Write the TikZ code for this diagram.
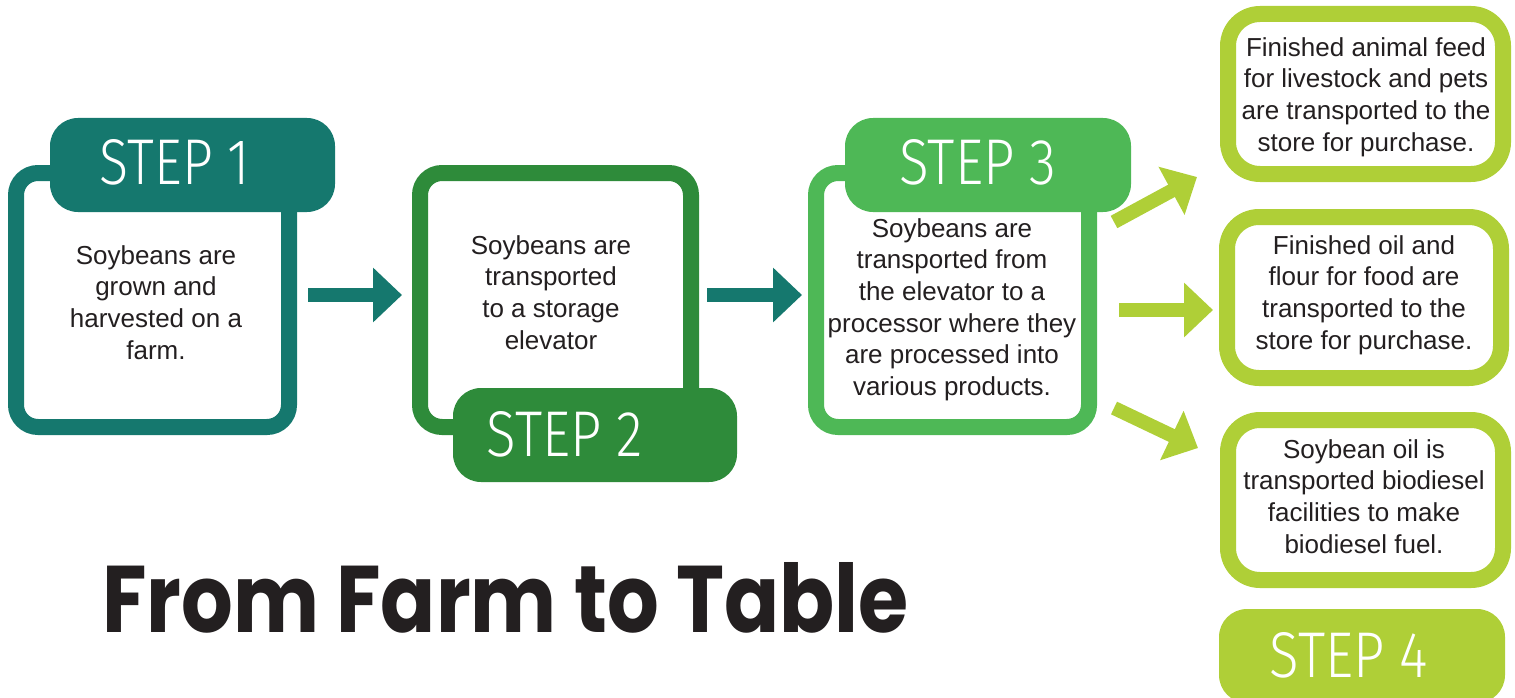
\documentclass[tikz,border=0pt]{standalone}
\usepackage{fontspec}
\setmainfont{Liberation Sans}
\newfontfamily\stepfont{Fira Sans Light}
\newfontfamily\titlefont{Poppins}
\usetikzlibrary{arrows.meta,calc}
\definecolor{cone}{HTML}{15786E}
\definecolor{ctwo}{HTML}{2E8B3A}
\definecolor{cthree}{HTML}{4EB856}
\definecolor{cfour}{HTML}{AFCF37}
\definecolor{txt}{HTML}{231F20}
\tikzset{
  frame/.style={draw=#1, line width=16pt, fill=white, rounded corners=22pt, inner sep=0pt},
  endframe/.style={draw=#1, line width=16pt, fill=white, rounded corners=32pt, inner sep=0pt},
  tab/.style={fill=#1, rounded corners=28pt, inner sep=0pt},
  body/.style={text=txt, font=\fontsize{26}{31.7}\selectfont, align=center, inner sep=0pt, anchor=north},
  steplabel/.style={text=white, inner sep=0pt},
  arr/.style={draw=#1, line width=14pt, -{Triangle[length=29pt,width=53pt]}}
}
\newcommand{\stepword}[2]{\resizebox{#1pt}{45pt}{\stepfont STEP #2}}
\begin{document}
\begin{tikzpicture}[x=1pt,y=-1pt]
\useasboundingbox (0,0) rectangle (1515,698);
% frames
\node[frame=cone, minimum width=273pt, minimum height=254pt] (b1) at (152.5,300) {};
\node[frame=ctwo, minimum width=271pt, minimum height=254pt] (b2) at (555.5,300) {};
\node[frame=cthree, minimum width=273pt, minimum height=254pt] (b3) at (952.5,300) {};
\node[endframe=cfour, minimum width=275pt, minimum height=160pt] (fa) at (1365.5,94) {};
\node[endframe=cfour, minimum width=274pt, minimum height=161pt] (fb) at (1364,297.5) {};
\node[endframe=cfour, minimum width=275pt, minimum height=160pt] (fc) at (1365.5,500) {};
% tabs
\node[tab=cone, minimum width=285pt, minimum height=94pt] (t1) at (192.5,165) {};
\node[tab=ctwo, minimum width=284pt, minimum height=94pt] (t2) at (595,435) {};
\node[tab=cthree, minimum width=286pt, minimum height=94pt] (t3) at (988,165) {};
\node[tab=cfour, minimum width=286pt, minimum height=94pt] (t4) at (1362,656) {};
% step labels
\node[steplabel] (l1) at (175,162.5) {\stepword{150}{1}};
\node[steplabel] (l2) at (565,434) {\stepword{156}{2}};
\node[steplabel] (l3) at (978,162.5) {\stepword{157}{3}};
\node[steplabel] (l4) at (1349,655) {\stepword{158}{4}};
% body texts
\node[body] (x1) at (156,245) {Soybeans are\\grown and\\harvested on a\\farm.};
\node[body] (x2) at (551,235) {Soybeans are\\transported\\to a storage\\elevator};
\node[body] (x3) at (952,218) {Soybeans are\\transported from\\the elevator to a\\processor where they\\are processed into\\various products.};
\node[body] (xa) at (1366,37) {Finished animal feed\\for livestock and pets\\are transported to the\\store for purchase.};
\node[body] (xb) at (1364,235) {Finished oil and\\flour for food are\\transported to the\\store for purchase.};
\node[body] (xc) at (1364,439) {Soybean oil is\\transported biodiesel\\facilities to make\\biodiesel fuel.};
% arrows
\draw[arr=cone] ($(b1.east)+(11,-5)$) -- ($(b2.west)+(-10,-5)$);
\draw[arr=cone] ($(b2.east)+(8,-5)$) -- ($(b3.west)+(-6,-5)$);
\draw[arr=cfour] ($(b3.north east)+(17,57)$) -- ($(fa.south west)+(-23,-5)$);
\draw[arr=cfour] ($(b3.east)+(22,10)$) -- ($(fb.west)+(-6,12.5)$);
\draw[arr=cfour] ($(b3.south east)+(17,-27)$) -- ($(fc.north west)+(-22,36)$);
% title
\node[anchor=north west, inner sep=0pt, text=txt] (title) at (102,562) {\resizebox{806pt}{70pt}{\titlefont\bfseries From Farm to Table}};
\end{tikzpicture}
\end{document}
